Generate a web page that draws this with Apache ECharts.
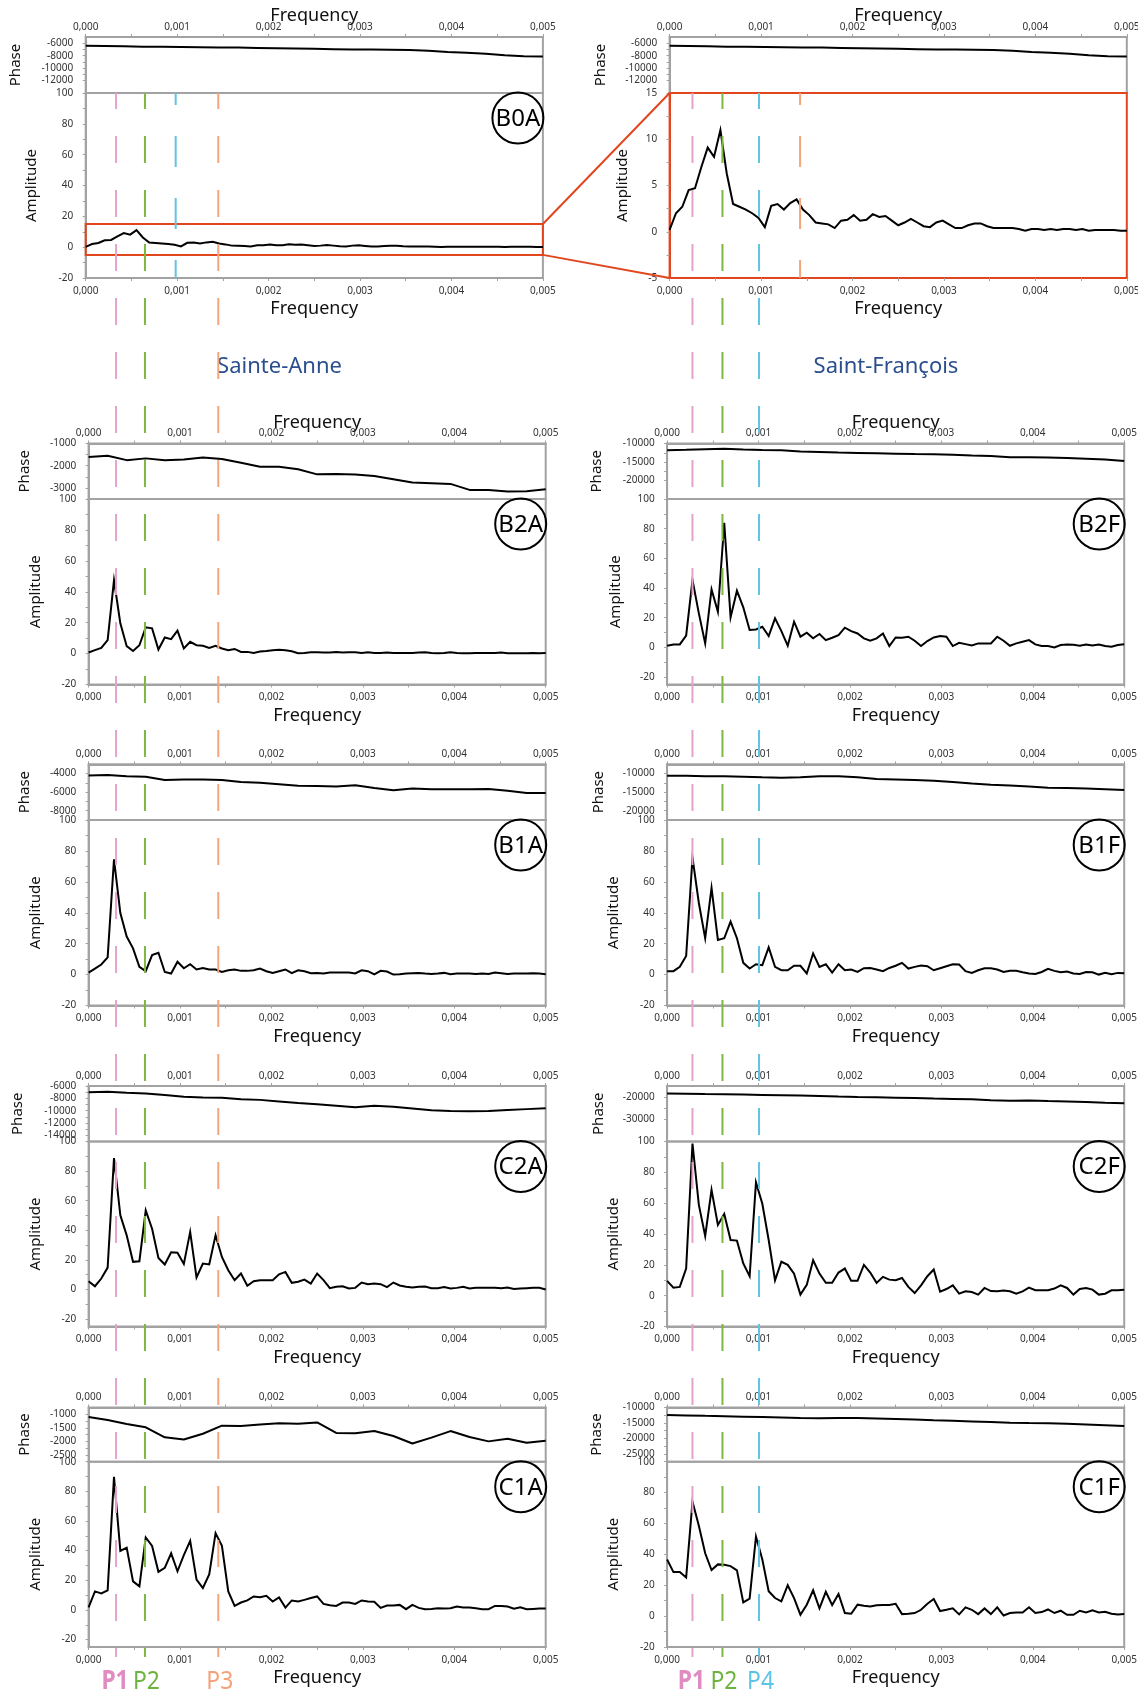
<!DOCTYPE html>
<html>
<head>
<meta charset="utf-8">
<script src="https://cdn.jsdelivr.net/npm/echarts@6/dist/echarts.min.js"></script>
<style>
  html, body { margin: 0; padding: 0; background: #ffffff; }
  #chart-container { width: 1138px; height: 1695px; }
</style>
</head>
<body>
<div id="chart-container"></div>
<script>
var dom = document.getElementById("chart-container");
var myChart = echarts.init(dom, null, { renderer: "canvas" });

// spectra are sampled every 1/14400 Hz, phases were read every third bin
const freqStep = 1 / 14400;
const phaseStep = 3 / 14400;

const freqLabels = [0, 0.001, 0.002, 0.003, 0.004, 0.005];
const ampLabels = [-20, 0, 20, 40, 60, 80, 100];
const zoomRange = [-5, 15];
const zoomLabels = [-5, 0, 5, 10, 15];

// amplitude spectra (73 bins, 0 .. 0.005 Hz)
const ampB0A = [0.2, 2.0, 2.7, 4.5, 4.7, 7.0, 9.1, 8.1, 11.0, 6.3,
  3.0, 2.7, 2.4, 2.0, 1.5, 0.5, 2.8, 3.0, 2.4, 3.1,
  3.5, 2.4, 1.8, 1.0, 0.9, 0.8, 0.4, 1.2, 1.3, 1.8,
  1.2, 1.3, 1.9, 1.6, 1.7, 1.2, 0.7, 1.0, 1.4, 1.0,
  0.6, 0.5, 1.0, 1.2, 0.8, 0.4, 0.4, 0.7, 0.9, 0.9,
  0.6, 0.4, 0.4, 0.4, 0.4, 0.3, 0.1, 0.3, 0.3, 0.2,
  0.3, 0.2, 0.3, 0.3, 0.2, 0.3, 0.1, 0.2, 0.2, 0.2,
  0.2, 0.1, 0.1];
const ampB2A = [0.7, 2.2, 3.7, 8.7, 47.4, 19.6, 4.8, 1.7, 5.4, 17.0,
  16.3, 2.6, 10.4, 9.3, 14.8, 3.3, 7.6, 5.4, 5.0, 3.7,
  5.0, 3.3, 2.2, 3.0, 1.1, 1.1, 0.4, 1.3, 1.7, 2.2,
  2.4, 2.2, 1.5, 0.2, 0.4, 0.9, 0.9, 0.7, 0.7, 1.1,
  0.7, 0.9, 0.9, 0.4, 0.9, 0.4, 0.4, 0.7, 0.4, 0.4,
  0.4, 0.4, 0.7, 0.9, 0.4, 0.2, 0.4, 0.9, 0.4, 0.2,
  0.2, 0.4, 0.4, 0.4, 0.4, 0.7, 0.2, 0.2, 0.2, 0.2,
  0.4, 0.2, 0.4];
const ampB2F = [1.1, 2.0, 2.0, 7.9, 45.4, 22.9, 2.7, 39.1, 24.0, 84.0,
  20.2, 38.2, 27.0, 11.7, 12.1, 13.9, 7.6, 19.6, 11.0, 1.1,
  17.3, 7.2, 9.9, 6.1, 9.0, 4.9, 6.5, 8.3, 13.3, 11.0,
  9.4, 6.1, 4.5, 6.1, 9.4, 0.9, 6.7, 6.5, 7.2, 4.5,
  0.9, 4.3, 6.7, 7.6, 7.2, 0.9, 3.1, 2.2, 1.3, 2.7,
  2.7, 2.7, 7.2, 4.5, 1.1, 2.7, 3.8, 4.9, 2.0, 0.9,
  0.9, 0.0, 1.6, 2.0, 1.8, 1.1, 2.0, 1.3, 2.0, 0.9,
  0.4, 1.6, 2.2];
const ampB1A = [1.3, 3.9, 6.5, 11.1, 74.6, 39.8, 24.6, 17.0, 5.0, 2.2,
  12.6, 14.1, 1.7, 0.7, 8.3, 4.1, 6.7, 3.3, 4.3, 3.3,
  3.3, 1.7, 2.8, 3.3, 2.4, 2.4, 2.8, 3.9, 2.2, 1.1,
  2.2, 3.3, 0.9, 2.8, 2.2, 0.9, 1.1, 0.7, 1.3, 1.3,
  1.3, 1.3, 0.7, 2.8, 2.2, 0.2, 2.4, 2.0, 0.0, 0.2,
  0.7, 0.9, 1.1, 0.7, 0.4, 0.7, 1.1, 0.2, 0.7, 0.7,
  0.7, 0.4, 0.7, 0.4, 1.3, 0.9, 0.4, 0.7, 0.7, 0.7,
  0.9, 0.7, 0.2];
const ampB1F = [2.2, 2.2, 5.0, 12.0, 75.7, 46.3, 23.5, 56.1, 22.4, 23.5,
  34.3, 23.5, 7.6, 3.9, 6.7, 6.1, 17.6, 5.0, 2.8, 2.8,
  5.7, 5.7, 0.7, 13.7, 5.0, 6.7, 1.3, 6.7, 2.8, 3.3,
  1.7, 4.1, 4.3, 3.3, 2.2, 4.3, 5.7, 7.6, 3.9, 5.0,
  5.9, 5.4, 2.8, 4.1, 5.4, 6.7, 6.5, 2.2, 1.1, 2.8,
  4.1, 4.1, 3.3, 1.7, 2.4, 2.4, 1.5, 0.7, 0.4, 1.7,
  3.7, 2.4, 1.5, 2.0, 0.7, 0.4, 1.7, 1.5, 0.0, 1.1,
  0.2, 1.1, 0.9];
const ampC2A = [5.6, 2.2, 7.4, 14.8, 88.8, 50.1, 36.6, 18.7, 19.1, 53.5,
  41.1, 21.3, 16.9, 25.2, 24.9, 17.3, 38.9, 8.1, 17.5, 16.9,
  36.6, 22.0, 13.0, 6.3, 10.8, 2.5, 5.6, 6.3, 6.3, 6.3,
  10.3, 11.9, 4.5, 5.2, 6.7, 4.0, 10.8, 6.3, 0.9, 1.8,
  2.2, 0.7, 1.1, 4.7, 3.6, 4.0, 3.6, 1.6, 4.7, 2.7,
  1.8, 1.3, 1.8, 2.0, 0.9, 0.9, 1.6, 0.7, 1.1, 1.8,
  0.7, 1.1, 1.1, 1.1, 1.1, 0.9, 1.3, 0.4, 0.7, 0.9,
  1.1, 1.1, 0.0];
const ampC2F = [9.6, 5.2, 5.7, 17.6, 98.7, 58.9, 38.7, 68.7, 45.9, 53.0,
  36.1, 35.7, 20.9, 12.6, 73.5, 59.6, 36.1, 10.0, 22.0, 20.0,
  14.3, 0.7, 7.0, 23.0, 14.3, 8.3, 8.3, 15.0, 17.6, 9.6,
  9.6, 20.0, 15.0, 8.3, 12.2, 10.4, 10.0, 11.5, 5.7, 1.7,
  6.7, 12.6, 17.0, 2.6, 4.3, 6.7, 1.3, 2.8, 2.4, 0.7,
  5.0, 3.0, 2.8, 3.3, 2.8, 1.3, 2.8, 5.2, 3.5, 3.5,
  3.5, 4.6, 6.7, 5.0, 0.7, 4.3, 5.0, 3.9, 0.7, 1.3,
  3.5, 3.5, 3.9];
const ampC1A = [1.8, 12.5, 11.1, 13.2, 89.8, 39.8, 42.0, 19.3, 15.9, 48.9,
  43.2, 25.7, 28.4, 38.2, 26.1, 37.0, 46.6, 20.5, 14.8, 23.9,
  51.8, 43.2, 12.5, 2.7, 5.0, 6.4, 9.1, 8.6, 9.5, 5.7,
  8.4, 1.6, 6.4, 5.7, 6.8, 8.0, 9.1, 4.1, 3.2, 2.7,
  5.0, 5.0, 4.1, 6.4, 5.7, 5.5, 1.4, 3.0, 3.0, 3.4,
  0.5, 3.4, 1.4, 0.5, 0.7, 1.1, 0.9, 1.1, 2.3, 1.6,
  1.6, 1.1, 0.5, 0.5, 2.7, 2.7, 2.3, 0.9, 1.8, 0.5,
  0.7, 0.9, 0.9];
const ampC1F = [36.7, 28.5, 28.5, 25.0, 74.1, 58.5, 40.7, 29.8, 33.5, 33.3,
  32.4, 29.6, 8.9, 11.3, 51.5, 36.7, 16.1, 11.7, 9.6, 20.0,
  11.7, 0.9, 7.4, 16.7, 5.0, 15.7, 7.2, 14.3, 2.0, 1.5,
  7.4, 6.7, 6.3, 7.0, 7.2, 7.2, 8.0, 1.3, 1.5, 2.0,
  4.1, 8.0, 11.1, 3.3, 4.1, 5.0, 1.1, 5.7, 4.1, 1.3,
  5.0, 1.3, 5.7, 0.4, 2.0, 2.4, 2.4, 5.7, 2.0, 2.6,
  4.3, 2.0, 3.5, 0.9, 0.9, 3.5, 2.4, 3.7, 2.4, 2.8,
  1.5, 1.1, 1.3];

// phase spectra (25 points, every third bin)
const phaseB0 = [-6400, -6450, -6500, -6550, -6550, -6600, -6650, -6700, -6700, -6750,
  -6800, -6850, -6900, -6950, -7000, -7000, -7050, -7100, -7200, -7400,
  -7550, -7700, -7950, -8100, -8150];
const phaseB2A = [-1610, -1550, -1750, -1670, -1750, -1720, -1630, -1700, -1870, -2050,
  -2050, -2160, -2390, -2370, -2400, -2460, -2610, -2760, -2790, -2820,
  -3090, -3090, -3160, -3150, -3060];
const phaseB2F = [-11800, -11700, -11550, -11400, -11600, -11750, -11850, -12150, -12300, -12450,
  -12550, -12650, -12750, -12850, -12900, -13050, -13250, -13400, -13700, -13700,
  -13800, -13950, -14100, -14350, -14700];
const phaseB1A = [-4200, -4150, -4300, -4350, -4700, -4650, -4650, -4700, -4900, -5000,
  -5150, -5300, -5350, -5400, -5250, -5550, -5800, -5600, -5700, -5700,
  -5700, -5650, -5850, -6100, -6100];
const phaseB1F = [-10600, -10600, -10700, -10750, -10850, -11000, -11100, -11000, -10700, -10700,
  -11000, -11450, -11600, -11750, -11950, -12250, -12700, -13000, -13200, -13500,
  -13800, -13900, -14050, -14200, -14450];
const phaseC2A = [-7000, -6950, -7100, -7200, -7450, -7750, -7850, -7900, -8150, -8250,
  -8500, -8750, -8950, -9200, -9450, -9200, -9350, -9650, -9950, -10050,
  -10100, -10050, -9900, -9750, -9600];
const phaseC2F = [-18400, -18500, -18650, -18750, -18850, -19000, -19150, -19300, -19450, -19700,
  -19900, -20050, -20250, -20450, -20650, -20800, -21000, -21400, -21700, -21550,
  -21800, -22000, -22200, -22500, -22750];
const phaseC1A = [-1100, -1210, -1360, -1480, -1850, -1930, -1720, -1420, -1430, -1380,
  -1330, -1350, -1300, -1690, -1700, -1620, -1800, -2080, -1860, -1620,
  -1840, -2000, -1900, -2050, -1980];
const phaseC1F = [-12450, -12550, -12700, -12800, -12950, -13100, -13250, -13400, -13450, -13400,
  -13400, -13550, -13700, -13850, -14100, -14300, -14500, -14700, -14900, -15000,
  -15050, -15250, -15450, -15700, -16000];

// phase axis tick labels
const phaseLabelsB0 = [-12000, -10000, -8000, -6000];
const phaseLabelsB2A = [-3000, -2000, -1000];
const phaseLabelsB2F = [-20000, -15000, -10000];
const phaseLabelsB1A = [-8000, -6000, -4000];
const phaseLabelsB1F = [-20000, -15000, -10000];
const phaseLabelsC2A = [-14000, -12000, -10000, -8000, -6000];
const phaseLabelsC2F = [-30000, -20000];
const phaseLabelsC1A = [-2500, -2000, -1500, -1000];
const phaseLabelsC1F = [-25000, -20000, -15000, -10000];

// marked periods
const peakNames = ["P1", "P2", "P3", "P4"];
const peakFreqAnne = [0.000332, 0.000648, 0.00145, 0.000984];
const peakFreqFrancois = [0.00025, 0.000578, 0.001427, 0.000978];

// ---- styling / layout ----
const fontFamily = "Noto Sans";
const gray = "#a2a2a2";
const red = "#e2461e";
const peakColors = ["#e3a3cc", "#7cb83f", "#f4a57c", "#62c3e3"];
const labelColors = ["#e08cc0", "#6db33f", "#f4a27a", "#5bc3e6"];

const rows = [
  [37, 93, 278],
  [443.5, 499, 684.5],
  [764.3, 820, 1005.5],
  [1086, 1141.5, 1326.5],
  [1407.5, 1461.7, 1647],
];

const panels = [
  { tag: "B0A", col: 0, row: 0, left: 85.7, width: 457.2, amp: ampB0A, phase: phaseB0,
    ampRange: [-20, 100], ampLabels: ampLabels, phaseRange: [-14000, -5000], phaseLabels: phaseLabelsB0,
    topTitle: true, phaseGap: 62, ampGap: 46 },
  { tag: null, col: 1, row: 0, left: 669.6, width: 457.2, amp: ampB0A, phase: phaseB0,
    ampRange: zoomRange, ampLabels: zoomLabels, phaseRange: [-14000, -5000], phaseLabels: phaseLabelsB0,
    topTitle: true, phaseGap: 61, ampGap: 39.5, zoomed: true },
  { tag: "B2A", col: 0, row: 1, left: 88.6, width: 457.1, amp: ampB2A, phase: phaseB2A,
    ampRange: [-20, 100], ampLabels: ampLabels, phaseRange: [-3500, -1000], phaseLabels: phaseLabelsB2A,
    topTitle: true, phaseGap: 56, ampGap: 45.5 },
  { tag: "B2F", col: 1, row: 1, left: 667.1, width: 457.1, amp: ampB2F, phase: phaseB2F,
    ampRange: [-25, 100], ampLabels: ampLabels, phaseRange: [-25000, -10000], phaseLabels: phaseLabelsB2F,
    topTitle: true, phaseGap: 62.5, ampGap: 44 },
  { tag: "B1A", col: 0, row: 2, left: 88.6, width: 457.1, amp: ampB1A, phase: phaseB1A,
    ampRange: [-20, 100], ampLabels: ampLabels, phaseRange: [-9000, -3000], phaseLabels: phaseLabelsB1A,
    phaseGap: 56, ampGap: 45.5 },
  { tag: "B1F", col: 1, row: 2, left: 667.1, width: 457.1, amp: ampB1F, phase: phaseB1F,
    ampRange: [-20, 100], ampLabels: ampLabels, phaseRange: [-22500, -7500], phaseLabels: phaseLabelsB1F,
    phaseGap: 61, ampGap: 45.5 },
  { tag: "C2A", col: 0, row: 3, left: 88.6, width: 457.1, amp: ampC2A, phase: phaseC2A,
    ampRange: [-25, 100], ampLabels: ampLabels, phaseRange: [-15000, -6000], phaseLabels: phaseLabelsC2A,
    phaseGap: 63, ampGap: 45.5 },
  { tag: "C2F", col: 1, row: 3, left: 667.1, width: 457.1, amp: ampC2F, phase: phaseC2F,
    ampRange: [-20, 100], ampLabels: ampLabels, phaseRange: [-40000, -15000], phaseLabels: phaseLabelsC2F,
    phaseGap: 61, ampGap: 45.5 },
  { tag: "C1A", col: 0, row: 4, left: 88.6, width: 457.1, amp: ampC1A, phase: phaseC1A,
    ampRange: [-25, 100], ampLabels: ampLabels, phaseRange: [-2750, -750], phaseLabels: phaseLabelsC1A,
    phaseGap: 56, ampGap: 45.5 },
  { tag: "C1F", col: 1, row: 4, left: 667.1, width: 457.1, amp: ampC1F, phase: phaseC1F,
    ampRange: [-20, 100], ampLabels: ampLabels, phaseRange: [-27500, -10000], phaseLabels: phaseLabelsC1F,
    phaseGap: 62.5, ampGap: 45.5 },
];

function withMidpoints(vals) {
  const out = [];
  vals.forEach(function (v, i) {
    out.push(v);
    if (i < vals.length - 1) out.push((v + vals[i + 1]) / 2);
  });
  return out;
}

function freqText(v) {
  return v.toFixed(3).replace(".", ",");
}

const grids = [];
const xAxes = [];
const yAxes = [];
const series = [];

function xAxisFor(gridIndex, position, title, lineColor) {
  return {
    gridIndex: gridIndex,
    type: "value",
    position: position,
    min: 0,
    max: 0.005,
    name: title,
    nameLocation: "middle",
    nameGap: position === "top" ? 12 : 22,
    nameMoveOverlap: false,
    nameTextStyle: { fontFamily: fontFamily, fontSize: 18, color: "#111" },
    axisLine: { show: true, onZero: false, lineStyle: { color: lineColor, width: 2 } },
    axisTick: { show: true, customValues: withMidpoints(freqLabels), length: 3, lineStyle: { color: gray } },
    axisLabel: {
      customValues: freqLabels,
      margin: position === "top" ? 5 : 8,
      fontFamily: fontFamily,
      fontSize: 10,
      color: "#333",
      formatter: freqText,
    },
    splitLine: { show: false },
  };
}

function yAxisFor(gridIndex, range, labels, title, gap, lineColor) {
  return {
    gridIndex: gridIndex,
    type: "value",
    min: range[0],
    max: range[1],
    name: title,
    nameLocation: "middle",
    nameGap: gap,
    nameTextStyle: { fontFamily: fontFamily, fontSize: 15, color: "#111" },
    axisLine: { show: true, onZero: false, lineStyle: { color: lineColor, width: 2 } },
    axisTick: { show: true, customValues: withMidpoints(labels), length: 3, lineStyle: { color: gray } },
    axisLabel: {
      customValues: labels,
      margin: 12.5,
      fontFamily: fontFamily,
      fontSize: 10,
      color: "#333",
      formatter: function (v) { return String(v); },
    },
    splitLine: { show: false },
  };
}

panels.forEach(function (p, i) {
  const r = rows[p.row];
  const gPhase = i * 2;
  const gAmp = i * 2 + 1;
  const ampColor = p.zoomed ? red : gray;

  grids.push({ left: p.left, width: p.width, top: r[0], height: r[1] - r[0],
    show: true, borderColor: gray, borderWidth: 2, outerBoundsMode: "none" });
  grids.push({ left: p.left, width: p.width, top: r[1], height: r[2] - r[1],
    show: true, borderColor: ampColor, borderWidth: 2, outerBoundsMode: "none" });

  xAxes.push(xAxisFor(gPhase, "top", p.topTitle ? "Frequency" : "", gray));
  xAxes.push(xAxisFor(gAmp, "bottom", "Frequency", ampColor));
  yAxes.push(yAxisFor(gPhase, p.phaseRange, p.phaseLabels, "Phase", p.phaseGap, gray));
  yAxes.push(yAxisFor(gAmp, p.ampRange, p.ampLabels, "Amplitude", p.ampGap, ampColor));

  series.push({
    type: "line",
    xAxisIndex: gPhase,
    yAxisIndex: gPhase,
    data: p.phase.map(function (v, k) { return [k * phaseStep, v]; }),
    symbol: "none",
    silent: true,
    z: 3,
    lineStyle: { color: "#000", width: 2 },
  });

  const ampSeries = {
    type: "line",
    xAxisIndex: gAmp,
    yAxisIndex: gAmp,
    data: p.amp.map(function (v, k) { return [k * freqStep, v]; }),
    symbol: "none",
    silent: true,
    z: 3,
    lineStyle: { color: "#000", width: 2, join: "miter" },
  };
  if (p.tag === "B0A") {
    ampSeries.markArea = {
      silent: true,
      itemStyle: { color: "rgba(0,0,0,0)", borderColor: red, borderWidth: 2 },
      data: [[{ xAxis: 0, yAxis: zoomRange[1] }, { xAxis: 0.005, yAxis: zoomRange[0] }]],
    };
  }
  series.push(ampSeries);

  // periods that only appear in the top row of each column
  if (p.row === 0) {
    const extra = p.col === 0 ? 3 : 2;
    const f = p.col === 0 ? peakFreqAnne[extra] : peakFreqFrancois[extra];
    series.push({
      type: "line",
      xAxisIndex: gAmp,
      yAxisIndex: gAmp,
      data: [[f, p.ampRange[1]], [f, p.ampRange[0]]],
      symbol: "none",
      silent: true,
      z: 4,
      lineStyle: { color: peakColors[extra], width: 2, type: [31, 31], dashOffset: 19 },
    });
  }
});

// overlay grids carrying the long dashed period markers of each column
const overlayTop = 93;
const overlayBottom = 1657;
const overlayGrid = [];
[0, 1].forEach(function (col) {
  const base = panels[col];
  const gi = grids.length;
  overlayGrid.push(gi);
  grids.push({ left: base.left, width: base.width, top: overlayTop, height: overlayBottom - overlayTop,
    show: false, outerBoundsMode: "none" });
  xAxes.push({ gridIndex: gi, type: "value", min: 0, max: 0.005, show: false });
  yAxes.push({ gridIndex: gi, type: "value", min: 0, max: 1, show: false });
  const freqs = col === 0 ? peakFreqAnne : peakFreqFrancois;
  const shown = col === 0 ? [0, 1, 2] : [0, 1, 3];
  shown.forEach(function (j) {
    series.push({
      type: "line",
      xAxisIndex: gi,
      yAxisIndex: gi,
      data: [[freqs[j], 1], [freqs[j], 0]],
      symbol: "none",
      silent: true,
      z: 5,
      lineStyle: { color: peakColors[j], width: 2, type: [27, 27], dashOffset: 11 },
    });
  });
});

var option = {
  animation: false,
  backgroundColor: "#ffffff",
  textStyle: { fontFamily: fontFamily },
  grid: grids,
  xAxis: xAxes,
  yAxis: yAxes,
  series: series,
};

myChart.setOption(option);

// annotations placed from the chart's layout and scales
const graphics = [];

panels.forEach(function (p) {
  if (!p.tag) return;
  const r = rows[p.row];
  const cx = p.left + p.width - 25;
  const cy = r[1] + 25;
  graphics.push({
    type: "circle",
    shape: { cx: cx, cy: cy, r: 25.5 },
    style: { fill: "rgba(0,0,0,0)", stroke: "#000", lineWidth: 2 },
    z: 10,
  });
  graphics.push({
    type: "text",
    x: cx,
    y: cy + 1,
    style: { text: p.tag, fontFamily: fontFamily, fontSize: 24, fill: "#000",
      align: "center", verticalAlign: "middle" },
    z: 10,
  });
});

// connectors between the boxed region and the zoomed panel
const boxTop = myChart.convertToPixel({ gridIndex: 1 }, [0.005, zoomRange[1]]);
const boxBottom = myChart.convertToPixel({ gridIndex: 1 }, [0.005, zoomRange[0]]);
const zoomTop = myChart.convertToPixel({ gridIndex: 3 }, [0, zoomRange[1]]);
const zoomBottom = myChart.convertToPixel({ gridIndex: 3 }, [0, zoomRange[0]]);
[[boxTop, zoomTop], [boxBottom, zoomBottom]].forEach(function (pair) {
  graphics.push({
    type: "line",
    shape: { x1: pair[0][0], y1: pair[0][1], x2: pair[1][0], y2: pair[1][1] },
    style: { stroke: red, lineWidth: 2 },
    z: 10,
  });
});

// site names
graphics.push({
  type: "text", x: 279.5, y: 367,
  style: { text: "Sainte-Anne", fontFamily: fontFamily, fontSize: 22, fill: "#2b4e8f",
    align: "center", verticalAlign: "middle" },
});
graphics.push({
  type: "text", x: 886, y: 367,
  style: { text: "Saint-François", fontFamily: fontFamily, fontSize: 22, fill: "#2b4e8f",
    align: "center", verticalAlign: "middle" },
});

// period legends under each column
[0, 1].forEach(function (col) {
  const freqs = col === 0 ? peakFreqAnne : peakFreqFrancois;
  const shown = col === 0 ? [0, 1, 2] : [0, 1, 3];
  shown.forEach(function (j) {
    const px = myChart.convertToPixel({ gridIndex: overlayGrid[col] }, [freqs[j], 0]);
    graphics.push({
      type: "text",
      x: px[0] + (j === 0 ? -1 : 1.5),
      y: 1682,
      scaleX: 0.88,
      style: { text: peakNames[j], fontFamily: fontFamily, fontSize: 26,
        fontWeight: j === 0 ? "bold" : "normal", fill: labelColors[j],
        align: "center", verticalAlign: "middle" },
    });
  });
});

myChart.setOption({ graphic: graphics });

window.addEventListener("resize", myChart.resize);
</script>
</body>
</html>
